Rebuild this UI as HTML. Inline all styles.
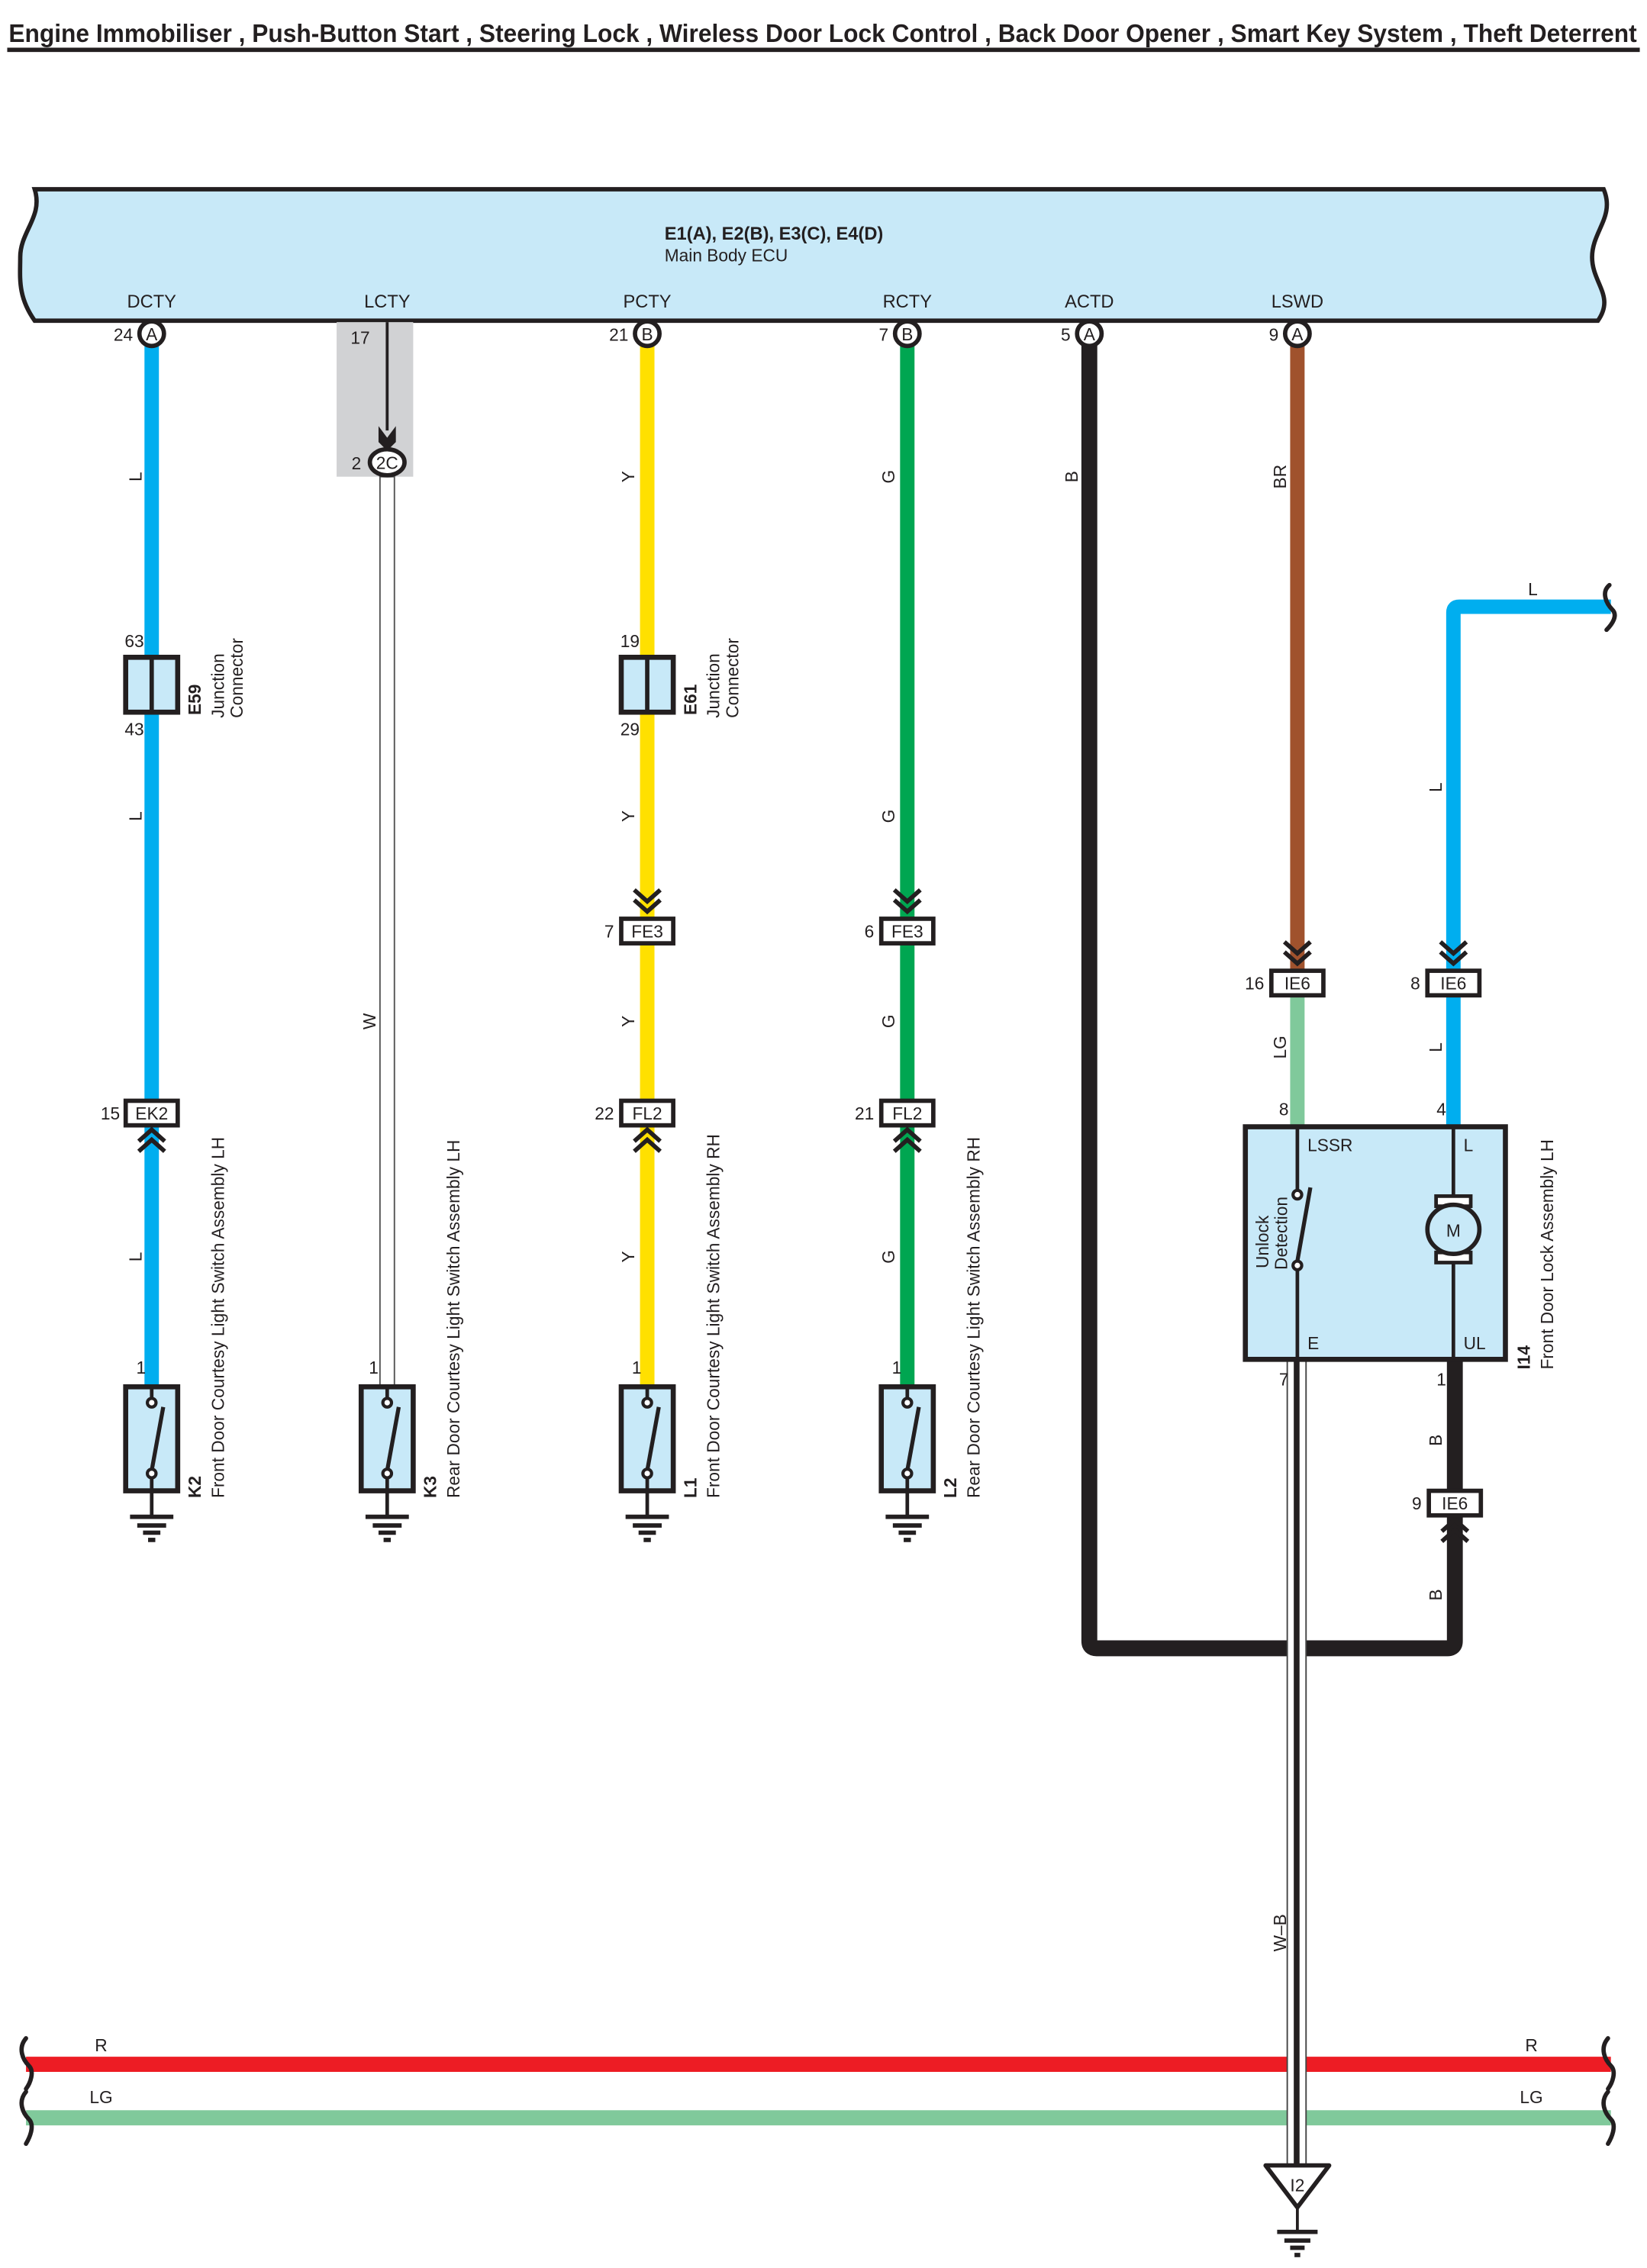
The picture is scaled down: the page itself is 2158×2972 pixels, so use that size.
<!DOCTYPE html>
<html><head><meta charset="utf-8"><style>
html,body{margin:0;padding:0;background:#fff;}
svg{display:block;}
text{font-family:"Liberation Sans",Arial,sans-serif;fill:#231f20;}
</style></head><body>
<svg width="2158" height="2972" viewBox="0 0 1140 1570" preserveAspectRatio="none" xmlns="http://www.w3.org/2000/svg">
<defs>
<g id="sw">
<rect x="-18" y="0" width="36" height="72" fill="#c8e9f8" stroke="#231f20" stroke-width="3.5"/>
<line x1="0" y1="0" x2="0" y2="8" stroke="#231f20" stroke-width="2.5"/>
<circle cx="0" cy="11" r="3" fill="#fff" stroke="#231f20" stroke-width="2.2"/>
<line x1="0" y1="58" x2="8" y2="14" stroke="#231f20" stroke-width="2.8"/>
<circle cx="0" cy="60" r="3" fill="#fff" stroke="#231f20" stroke-width="2.2"/>
<line x1="0" y1="63" x2="0" y2="90" stroke="#231f20" stroke-width="2.5"/>
<line x1="-15" y1="90" x2="15" y2="90" stroke="#231f20" stroke-width="3"/>
<line x1="-10" y1="96" x2="10" y2="96" stroke="#231f20" stroke-width="3"/>
<line x1="-6" y1="101" x2="6" y2="101" stroke="#231f20" stroke-width="3"/>
<line x1="-2.5" y1="106" x2="2.5" y2="106" stroke="#231f20" stroke-width="3"/>
</g>
<g id="dn"><path d="M-9,-18 L0,-10 L9,-18 M-9,-11 L0,-3 L9,-11" fill="none" stroke="#231f20" stroke-width="3"/></g>
<g id="up"><path d="M-9,18 L0,10 L9,18 M-9,11 L0,3 L9,11" fill="none" stroke="#231f20" stroke-width="3"/></g>
<g id="jc"><rect x="-18" y="0" width="36" height="38" fill="#c8e9f8" stroke="#231f20" stroke-width="3.5"/><line x1="0" y1="0" x2="0" y2="38" stroke="#231f20" stroke-width="3"/></g>
</defs>

<!-- title -->
<text x="6" y="29" font-size="17.5" font-weight="bold" textLength="1127" lengthAdjust="spacingAndGlyphs">Engine Immobiliser , Push-Button Start , Steering Lock , Wireless Door Lock Control , Back Door Opener , Smart Key System , Theft Deterrent</text>
<rect x="5" y="33" width="1130" height="3" fill="#231f20"/>

<!-- ECU -->
<path d="M24,131 L1110,131 C1118,150 1102,160 1102,178 C1102,196 1118,205 1106,222 L24,222 C12,205 14,192 14,178 C14,160 30,150 24,131 Z" fill="#c8e9f8" stroke="#231f20" stroke-width="3"/>
<text x="460" y="166" font-size="12.5" font-weight="bold">E1(A), E2(B), E3(C), E4(D)</text>
<text x="460" y="181" font-size="12">Main Body ECU</text>
<g font-size="12.5" text-anchor="middle">
<text x="105" y="213">DCTY</text><text x="268" y="213">LCTY</text><text x="448" y="213">PCTY</text>
<text x="628" y="213">RCTY</text><text x="754" y="213">ACTD</text><text x="898" y="213">LSWD</text>
</g>

<!-- LCTY gray area -->
<rect x="233" y="223" width="53" height="107" fill="#d1d2d4"/>
<line x1="268" y1="223" x2="268" y2="298" stroke="#231f20" stroke-width="2"/>
<path d="M262,295 L268,303 L274,295 L274,306 L268,312 L262,306 Z" fill="#231f20"/>
<text x="256" y="238" font-size="12" text-anchor="end">17</text>

<!-- wires -->
<g fill="none" stroke-width="10">
<line x1="105" y1="238" x2="105" y2="960" stroke="#00aeef"/>
<line x1="448" y1="238" x2="448" y2="960" stroke="#ffe000"/>
<line x1="628" y1="238" x2="628" y2="960" stroke="#00a651"/>
<line x1="898" y1="238" x2="898" y2="672" stroke="#a0522d"/>
<line x1="898" y1="688" x2="898" y2="780" stroke="#80c99b"/>
<path d="M1115,420 L1010,420 Q1006,420 1006,424 L1006,780" stroke="#00aeef" stroke-width="10"/>
<path d="M754,238 L754,1136 Q754,1141 759,1141 L1002,1141 Q1007,1141 1007,1136 L1007,1048" stroke="#231f20" stroke-width="11"/>
<line x1="1007" y1="941" x2="1007" y2="1034" stroke="#231f20" stroke-width="11"/>
<line x1="18" y1="1429" x2="1115" y2="1429" stroke="#ed1c24" stroke-width="10.5"/>
<line x1="18" y1="1466" x2="1115" y2="1466" stroke="#80c99b" stroke-width="10.5"/>
</g>
<!-- W wire -->
<rect x="263" y="330" width="10" height="630" fill="#fff" stroke="#555" stroke-width="1"/>
<!-- W-B wire -->
<rect x="891" y="941" width="13" height="558" fill="#fff" stroke="#444" stroke-width="1"/>
<line x1="897.5" y1="941" x2="897.5" y2="1499" stroke="#231f20" stroke-width="4"/>

<!-- wavy ends -->
<g fill="none" stroke="#231f20" stroke-width="3" stroke-linecap="round">
<path d="M1114,405 C1108,410 1112,418 1116,422 C1120,426 1116,432 1112,436"/>
<path d="M1113,1411 C1107,1418 1111,1426 1115,1430 C1119,1434 1116,1442 1113,1446"/>
<path d="M1113,1448 C1107,1455 1111,1463 1115,1467 C1119,1471 1116,1479 1113,1484"/>
<path d="M18,1411 C12,1418 16,1426 20,1430 C24,1434 21,1442 18,1446"/>
<path d="M18,1448 C12,1455 16,1463 20,1467 C24,1471 21,1479 18,1484"/>
</g>

<!-- ECU pin circles -->
<g font-size="12" text-anchor="middle">
<circle cx="105" cy="231" r="8.5" fill="#fff" stroke="#231f20" stroke-width="3"/><text x="105" y="235.5">A</text>
<circle cx="448" cy="231" r="8.5" fill="#fff" stroke="#231f20" stroke-width="3"/><text x="448" y="235.5">B</text>
<circle cx="628" cy="231" r="8.5" fill="#fff" stroke="#231f20" stroke-width="3"/><text x="628" y="235.5">B</text>
<circle cx="754" cy="231" r="8.5" fill="#fff" stroke="#231f20" stroke-width="3"/><text x="754" y="235.5">A</text>
<circle cx="898" cy="231" r="8.5" fill="#fff" stroke="#231f20" stroke-width="3"/><text x="898" y="235.5">A</text>
<ellipse cx="268" cy="320" rx="12" ry="9" fill="#fff" stroke="#231f20" stroke-width="3"/><text x="268" y="324.5">2C</text>
</g>
<g font-size="12" text-anchor="end">
<text x="92" y="236">24</text><text x="435" y="236">21</text><text x="615" y="236">7</text>
<text x="741" y="236">5</text><text x="885" y="236">9</text><text x="250" y="325">2</text>
</g>

<!-- junction connectors -->
<use href="#jc" x="105" y="455"/><use href="#jc" x="448" y="455"/>
<g font-size="12" text-anchor="middle">
<text x="93" y="448">63</text><text x="93" y="509">43</text>
<text x="436" y="448">19</text><text x="436" y="509">29</text>
</g>
<g font-size="12">
<text transform="translate(139,495) rotate(-90)" font-weight="bold">E59</text>
<text transform="translate(155,497) rotate(-90)">Junction</text>
<text transform="translate(168,497) rotate(-90)">Connector</text>
<text transform="translate(482,495) rotate(-90)" font-weight="bold">E61</text>
<text transform="translate(498,497) rotate(-90)">Junction</text>
<text transform="translate(511,497) rotate(-90)">Connector</text>
</g>

<!-- chevrons -->
<use href="#dn" x="448" y="634"/><use href="#dn" x="628" y="634"/>
<use href="#dn" x="898" y="670"/><use href="#dn" x="1006" y="670"/>
<use href="#up" x="105" y="779"/><use href="#up" x="448" y="779"/><use href="#up" x="628" y="779"/>
<use href="#up" x="1007" y="1049"/>

<!-- connector boxes -->
<g font-size="12" text-anchor="middle">
<rect x="430" y="636" width="36" height="17" fill="#fff" stroke="#231f20" stroke-width="3"/><text x="448" y="649">FE3</text>
<rect x="610" y="636" width="36" height="17" fill="#fff" stroke="#231f20" stroke-width="3"/><text x="628" y="649">FE3</text>
<rect x="87" y="762" width="36" height="17" fill="#fff" stroke="#231f20" stroke-width="3"/><text x="105" y="775">EK2</text>
<rect x="430" y="762" width="36" height="17" fill="#fff" stroke="#231f20" stroke-width="3"/><text x="448" y="775">FL2</text>
<rect x="610" y="762" width="36" height="17" fill="#fff" stroke="#231f20" stroke-width="3"/><text x="628" y="775">FL2</text>
<rect x="880" y="672" width="36" height="17" fill="#fff" stroke="#231f20" stroke-width="3"/><text x="898" y="685">IE6</text>
<rect x="988" y="672" width="36" height="17" fill="#fff" stroke="#231f20" stroke-width="3"/><text x="1006" y="685">IE6</text>
<rect x="989" y="1032" width="36" height="17" fill="#fff" stroke="#231f20" stroke-width="3"/><text x="1007" y="1045">IE6</text>
</g>
<g font-size="12" text-anchor="end">
<text x="425" y="649">7</text><text x="605" y="649">6</text><text x="83" y="775">15</text>
<text x="425" y="775">22</text><text x="605" y="775">21</text><text x="875" y="685">16</text>
<text x="983" y="685">8</text><text x="984" y="1045">9</text>
<text x="101" y="951">1</text><text x="262" y="951">1</text><text x="444" y="951">1</text><text x="624" y="951">1</text>
<text x="892" y="772">8</text><text x="1001" y="772">4</text><text x="892" y="959">7</text><text x="1001" y="959">1</text>
</g>

<!-- wire labels (rotated) -->
<g font-size="12" text-anchor="middle">
<text transform="translate(98,330) rotate(-90)">L</text>
<text transform="translate(98,565) rotate(-90)">L</text>
<text transform="translate(98,870) rotate(-90)">L</text>
<text transform="translate(260,707) rotate(-90)">W</text>
<text transform="translate(439,330) rotate(-90)">Y</text>
<text transform="translate(439,565) rotate(-90)">Y</text>
<text transform="translate(439,707) rotate(-90)">Y</text>
<text transform="translate(439,870) rotate(-90)">Y</text>
<text transform="translate(619,330) rotate(-90)">G</text>
<text transform="translate(619,565) rotate(-90)">G</text>
<text transform="translate(619,707) rotate(-90)">G</text>
<text transform="translate(619,870) rotate(-90)">G</text>
<text transform="translate(746,330) rotate(-90)">B</text>
<text transform="translate(890,330) rotate(-90)">BR</text>
<text transform="translate(890,725) rotate(-90)">LG</text>
<text transform="translate(998,545) rotate(-90)">L</text>
<text transform="translate(998,725) rotate(-90)">L</text>
<text transform="translate(998,997) rotate(-90)">B</text>
<text transform="translate(998,1104) rotate(-90)">B</text>
<text transform="translate(890,1338) rotate(-90)">W–B</text>
<text x="1061" y="412">L</text>
<text x="70" y="1420">R</text><text x="1060" y="1420">R</text>
<text x="70" y="1456">LG</text><text x="1060" y="1456">LG</text>
</g>

<!-- switches -->
<use href="#sw" x="105" y="960"/><use href="#sw" x="268" y="960"/>
<use href="#sw" x="448" y="960"/><use href="#sw" x="628" y="960"/>
<g font-size="12">
<text transform="translate(139,1037) rotate(-90)" font-weight="bold">K2</text>
<text transform="translate(155,1037) rotate(-90)">Front Door Courtesy Light Switch Assembly LH</text>
<text transform="translate(302,1037) rotate(-90)" font-weight="bold">K3</text>
<text transform="translate(318,1037) rotate(-90)">Rear Door Courtesy Light Switch Assembly LH</text>
<text transform="translate(482,1037) rotate(-90)" font-weight="bold">L1</text>
<text transform="translate(498,1037) rotate(-90)">Front Door Courtesy Light Switch Assembly RH</text>
<text transform="translate(662,1037) rotate(-90)" font-weight="bold">L2</text>
<text transform="translate(678,1037) rotate(-90)">Rear Door Courtesy Light Switch Assembly RH</text>
</g>

<!-- I14 -->
<rect x="862" y="780" width="180" height="161" fill="#c8e9f8" stroke="#231f20" stroke-width="3.5"/>
<g stroke="#231f20" fill="none">
<line x1="898" y1="780" x2="898" y2="824" stroke-width="2.5"/>
<circle cx="898" cy="827" r="3" fill="#fff" stroke-width="2.2"/>
<line x1="898" y1="873" x2="907" y2="822" stroke-width="2.8"/>
<circle cx="898" cy="876" r="3" fill="#fff" stroke-width="2.2"/>
<line x1="898" y1="879" x2="898" y2="941" stroke-width="2.5"/>
<line x1="1006" y1="780" x2="1006" y2="830" stroke-width="2.5"/>
<line x1="1006" y1="872" x2="1006" y2="941" stroke-width="2.5"/>
<rect x="994" y="828" width="24" height="7" fill="#fff" stroke-width="2.5"/>
<rect x="994" y="867" width="24" height="7" fill="#fff" stroke-width="2.5"/>
<ellipse cx="1006" cy="851" rx="18" ry="17" fill="#c8e9f8" stroke-width="3"/>
</g>
<text x="1006" y="856" font-size="12" text-anchor="middle">M</text>
<g font-size="12">
<text x="905" y="797">LSSR</text><text x="1013" y="797">L</text>
<text x="905" y="934">E</text><text x="1013" y="934">UL</text>
<text transform="translate(878,878) rotate(-90)">Unlock</text>
<text transform="translate(891,879) rotate(-90)">Detection</text>
<text transform="translate(1059,948) rotate(-90)" font-weight="bold">I14</text>
<text transform="translate(1075,948) rotate(-90)">Front Door Lock Assembly LH</text>
</g>

<!-- I2 ground -->
<path d="M876,1499 L920,1499 L898,1528 Z" fill="#fff" stroke="#231f20" stroke-width="3" stroke-linejoin="round"/>
<text x="898" y="1517" font-size="12" text-anchor="middle">I2</text>
<g stroke="#231f20" stroke-width="3">
<line x1="898" y1="1528" x2="898" y2="1545" stroke-width="2"/>
<line x1="884" y1="1545" x2="912" y2="1545"/>
<line x1="889" y1="1551" x2="907" y2="1551"/>
<line x1="893" y1="1556" x2="903" y2="1556"/>
<line x1="896" y1="1561" x2="900" y2="1561"/>
</g>
</svg>
</body></html>
